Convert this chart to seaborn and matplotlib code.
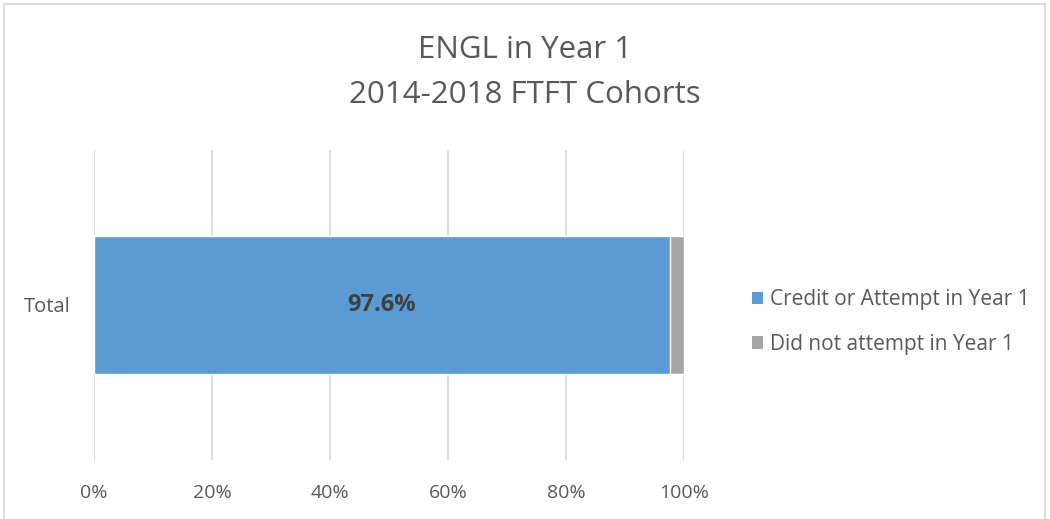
import matplotlib
matplotlib.use("Agg")
import matplotlib.pyplot as plt
import seaborn as sns
import pandas as pd
from matplotlib.patches import Rectangle, Patch

# data
categories = ["Total"]
series_names = ["Credit or Attempt in Year 1", "Did not attempt in Year 1"]
credit_vals = [0.976]
not_attempt_vals = [0.024]
tick_vals = [0, 0.2, 0.4, 0.6, 0.8, 1.0]
tick_labels = ["0%", "20%", "40%", "60%", "80%", "100%"]
colors = ["#5B9BD5", "#A5A5A5"]
text_color = "#595959"

sns.set_theme(style="white")
plt.rcParams['font.family'] = ['Open Sans', 'DejaVu Sans']

df = pd.DataFrame({"category": categories, "credit": credit_vals, "not": not_attempt_vals})
df["total"] = df["credit"] + df["not"]

fig = plt.figure(figsize=(10.5, 5.19), dpi=100)
ax = fig.add_axes([94 / 1050, 1 - 460 / 519, 590 / 1050, 310 / 519])

# stacked bars: draw total first, then first series on top
sns.barplot(data=df, x="total", y="category", color=colors[1], orient="h",
            width=0.445, ax=ax, saturation=1)
sns.barplot(data=df, x="credit", y="category", color=colors[0], orient="h",
            width=0.445, ax=ax, saturation=1)

ax.set_xlim(0, 1)
ax.set_ylim(0.5, -0.5)
ax.set_xticks(tick_vals)
ax.set_xticklabels(tick_labels, color=text_color, fontsize=14)
ax.tick_params(axis="x", length=0, pad=17)
ax.tick_params(axis="y", length=0, pad=17, labelsize=14.5, labelcolor=text_color)
ax.set_xlabel("")
ax.set_ylabel("")
ax.grid(True, axis="x", color="#D9D9D9", linewidth=1.3)
ax.set_axisbelow(True)
for s in ax.spines.values():
    s.set_visible(False)

# value label
for i, v in enumerate(credit_vals):
    ax.text(v / 2, i, f"{v * 100:.1f}%", ha="center", va="center",
            fontsize=17, fontweight="bold", color="#404040")

# title
fig.text(0.5, 1 - 50 / 519, "ENGL in Year 1", ha="center", va="center",
         fontsize=22.5, color=text_color)
fig.text(0.5, 1 - 95 / 519, "2014-2018 FTFT Cohorts", ha="center", va="center",
         fontsize=22.5, color=text_color)

# legend
handles = [Patch(facecolor=c, edgecolor="none") for c in colors]
fig.legend(handles, series_names, loc="center left",
           bbox_to_anchor=(733 / 1050, 1 - 322 / 519), frameon=False,
           fontsize=15, labelcolor=text_color, handlelength=0.55,
           handleheight=0.55, handletextpad=0.35, labelspacing=1.12)

# chart border
fig.patches.append(Rectangle((4 / 1050, -0.01), 1041 / 1050, 1 - 4 / 519 + 0.01,
                             transform=fig.transFigure, fill=False,
                             edgecolor="#D9D9D9", linewidth=1.3))

fig.savefig("out.png", dpi=100)
